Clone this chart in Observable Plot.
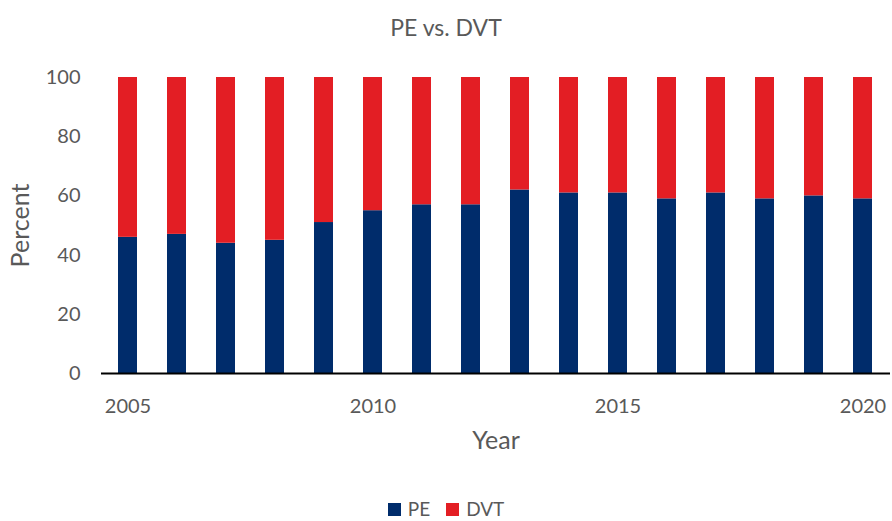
<!DOCTYPE html>
<html>
<head>
<meta charset="utf-8">
<script src="https://cdn.jsdelivr.net/npm/d3@7"></script>
<script src="https://cdn.jsdelivr.net/npm/@observablehq/plot@0.6"></script>
<style>
  body { margin: 0; background: #fff; font-family: Lato, "Open Sans", sans-serif; color: #595959; }
  #wrap { width: 892px; height: 521px; position: relative; }
  #title { height: 55px; line-height: 54px; text-align: center; font-size: 23px; }
  #legend { position: absolute; top: 499px; left: 0; width: 892px; height: 20px; line-height: 20px; text-align: center; font-size: 19px; }
  #legend span.sw { display: inline-block; width: 13px; height: 13px; margin-right: 7px; vertical-align: 0px; }
  #legend span.item { margin: 0 8px; }
</style>
</head>
<body>
<div id="wrap">
  <div id="title">PE vs. DVT</div>
  <div id="chart"></div>
  <div id="legend"></div>
</div>
<script>
const years = [2005,2006,2007,2008,2009,2010,2011,2012,2013,2014,2015,2016,2017,2018,2019,2020];
const pe = [46,47,44,45,51,55,57,57,62,61,61,59,61,59,60,59];
const series = ["PE", "DVT"];
const colors = ["#002C6B", "#E31E24"];
const xTicks = [2005, 2010, 2015, 2020];
const yTicks = [0, 20, 40, 60, 80, 100];

const data = [];
years.forEach((y, i) => {
  data.push({year: y, type: "PE", value: pe[i]});
  data.push({year: y, type: "DVT", value: 100 - pe[i]});
});

const chart = Plot.plot({
  width: 892,
  height: 400,
  marginTop: 22,
  marginBottom: 82,
  marginLeft: 101,
  marginRight: 2,
  style: { fontFamily: "Lato, 'Open Sans', sans-serif", fontSize: "20px", color: "#595959", background: "#fff" },
  x: { type: "band", domain: years, paddingInner: 0.61, paddingOuter: 0.305, label: null },
  y: { domain: [0, 100], label: null },
  color: { domain: series, range: colors },
  marks: [
    Plot.barY(data, Plot.stackY({ order: series }, { x: "year", y: "value", fill: "type" })),
    Plot.ruleY([0], { stroke: "#000", strokeWidth: 2 }),
    Plot.axisY({ ticks: yTicks, tickSize: 0, tickPadding: 21, label: "Percent", labelAnchor: "center", labelArrow: "none", labelOffset: 90, fontSize: 20 }),
    Plot.axisX({ ticks: xTicks, tickFormat: "d", tickSize: 0, tickPadding: 25, label: "Year", labelAnchor: "center", labelArrow: "none", labelOffset: 75, fontSize: 20 })
  ]
});
document.getElementById("chart").appendChild(chart);
chart.querySelectorAll("g[aria-label='y-axis label'] text, g[aria-label='x-axis label'] text").forEach(t => t.setAttribute("font-size", "25px"));

const legend = document.getElementById("legend");
series.forEach((s, i) => {
  const item = document.createElement("span");
  item.className = "item";
  item.innerHTML = `<span class="sw" style="background:${colors[i]}"></span>${s}`;
  legend.appendChild(item);
});
</script>
</body>
</html>
